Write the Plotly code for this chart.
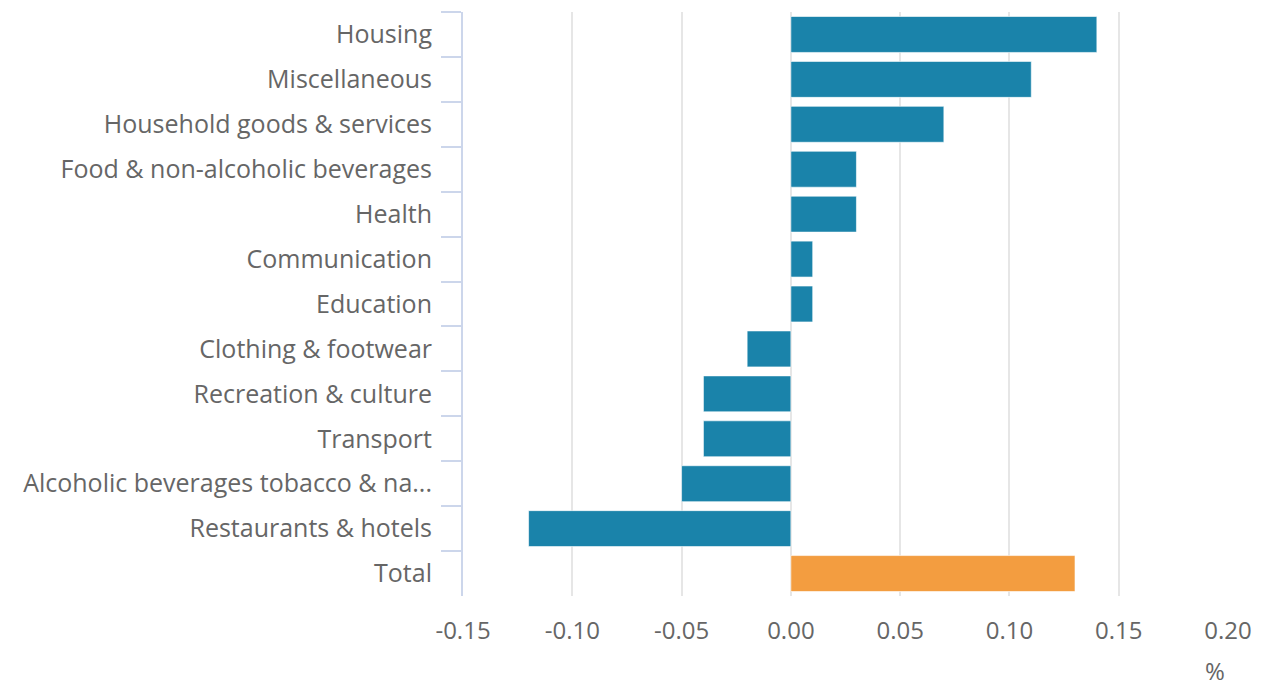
import plotly.graph_objects as go

categories = ["Housing", "Miscellaneous", "Household goods & services",
              "Food & non-alcoholic beverages", "Health", "Communication",
              "Education", "Clothing & footwear", "Recreation & culture",
              "Transport", "Alcoholic beverages tobacco & na...",
              "Restaurants & hotels", "Total"]
values = [0.14, 0.11, 0.07, 0.03, 0.03, 0.01, 0.01, -0.02, -0.04, -0.04, -0.05, -0.12, 0.13]
x_ticks = [-0.15, -0.10, -0.05, 0.00, 0.05, 0.10, 0.15, 0.20]

BLUE = "rgb(26,131,170)"
ORANGE = "rgb(243,157,64)"
colors = [ORANGE if c == "Total" else BLUE for c in categories]

fig = go.Figure(go.Bar(
    x=values, y=categories, orientation="h",
    marker=dict(color=colors, line=dict(color="rgba(255,255,255,0.6)", width=1)),
    width=0.8,
))

L, R, T, B = 463, 31, 12, 95
yfont = dict(family="Open Sans", size=25, color="#666666")
xfont = dict(family="Open Sans", size=24, color="#666666")
fig.update_layout(
    width=1264, height=691,
    margin=dict(l=L, r=R, t=T, b=B),
    paper_bgcolor="white", plot_bgcolor="white",
    showlegend=False,
    font=xfont,
    xaxis=dict(
        range=[-0.15, 0.20], tickvals=x_ticks,
        ticktext=[f"{v:.2f}" for v in x_ticks],
        showgrid=True, gridcolor="#e6e6e6", gridwidth=2,
        zeroline=False, showline=False, ticks="",
        tickfont=xfont, ticklabelstandoff=18,
    ),
    yaxis=dict(
        categoryorder="array", categoryarray=categories,
        autorange="reversed",
        showline=True, linecolor="#ccd6eb", linewidth=2,
        ticks="outside", tickson="boundaries", ticklen=20,
        tickcolor="#ccd6eb", tickwidth=2,
        showgrid=False, zeroline=False,
        tickfont=yfont, ticklabelstandoff=24,
    ),
)
pw = 1264 - L - R
ph = 691 - T - B
fig.add_annotation(text="%", x=(1220 - L) / pw, y=-(689 - (691 - B)) / ph,
                   xref="paper", yref="paper", showarrow=False, font=xfont,
                   xanchor="center", yanchor="bottom", yshift=0)

fig.write_html("out.html")
